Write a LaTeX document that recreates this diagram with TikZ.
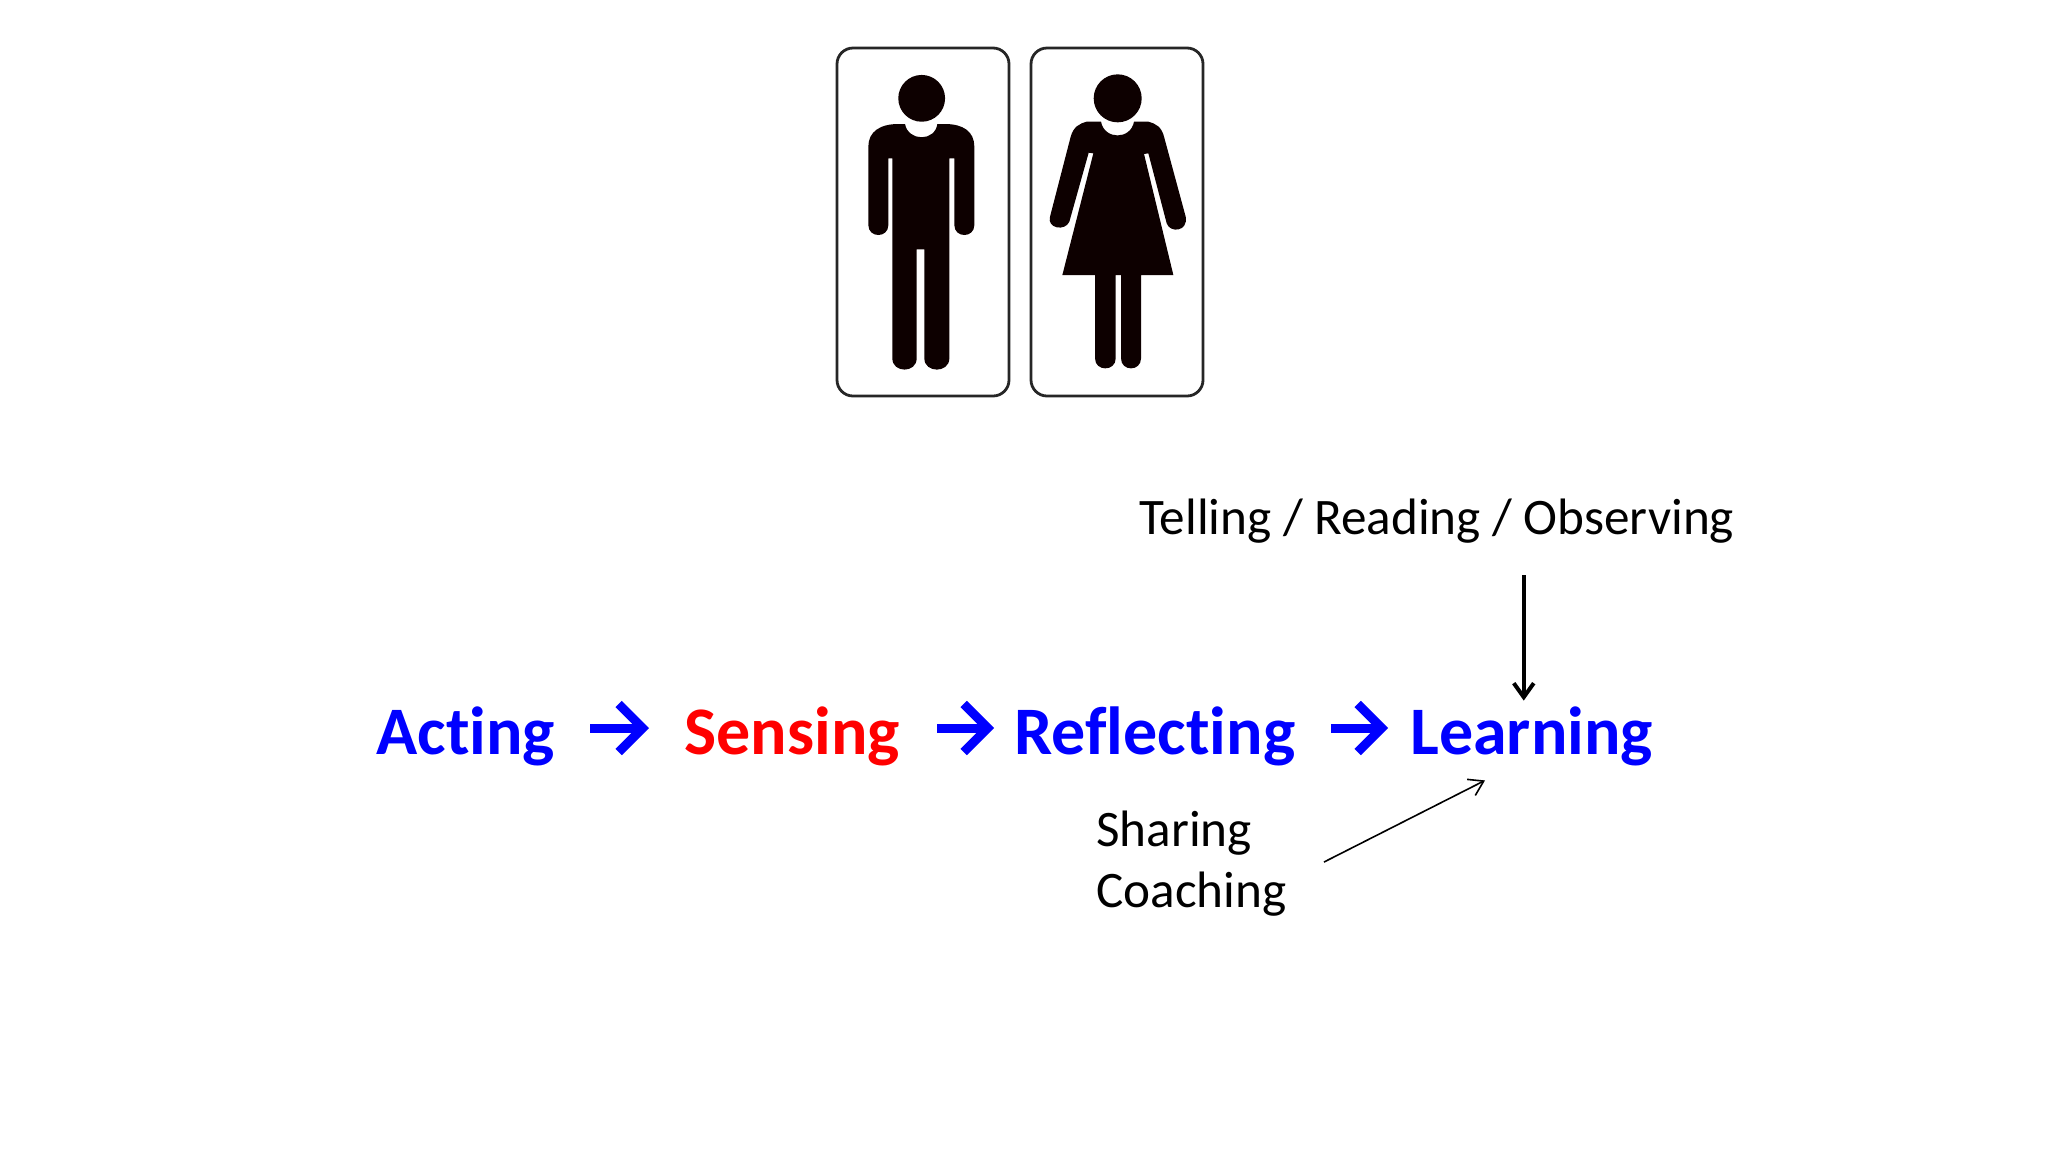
\documentclass[tikz,border=0pt]{standalone}
\usepackage{fontspec}
\setmainfont{Carlito}[Ligatures=NoCommon]
\usetikzlibrary{arrows.meta}
\usetikzlibrary{calc}
\usetikzlibrary{positioning}

\tikzset{
  stagelabel/.style={inner sep=0pt,anchor=base west,text height=32pt,text depth=6pt,font=\bfseries\fontsize{34}{34}\selectfont,text=blue},
  plainlabel/.style={inner sep=0pt,anchor=base west,font=\fontsize{25.6}{26}\selectfont,text=black},
  stagearrow/.style={draw=blue,line width=4.5pt,-{Straight Barb[length=12pt,width=24pt,line width=4.5pt]}},
  signbox/.style={draw=black!85,line width=1.4pt,rounded corners=8pt},
  figurefill/.style={fill=black!95!red,draw=none}
}

\begin{document}
\begin{tikzpicture}[x=0.5pt,y=-0.5pt]
\useasboundingbox (0,0) rectangle (2048,1152);

% signs
\draw[signbox] (837,48) rectangle (1009,396);
\draw[signbox] (1031,48) rectangle (1203,396);

% man and woman, in crop coordinates
\begin{scope}[shift={(820,30)},x=0.16667pt,y=-0.16667pt]
\fill[figurefill] (305,205) circle[radius=11.7pt];
\fill[figurefill] (255,282) .. controls (265,335) and (345,335) .. (352,282) -- (375,282)
  .. controls (430,282) and (463,305) .. (463,350) -- (463,585)
  .. controls (463,625) and (403,625) .. (403,585) -- (403,385) -- (388,385) -- (388,985)
  .. controls (388,1030) and (313,1030) .. (313,985) -- (313,658) -- (290,658) -- (290,985)
  .. controls (290,1030) and (217,1030) .. (217,985) -- (217,385) -- (205,385) -- (205,585)
  .. controls (205,625) and (145,625) .. (145,585) -- (145,350)
  .. controls (145,305) and (180,282) .. (235,282) -- cycle;
\fill[figurefill] (893,205) circle[radius=12pt];
\fill[figurefill] (843,275) .. controls (853,330) and (932,330) .. (942,275) -- (985,275)
  .. controls (1005,280) and (1025,290) .. (1032,320) -- (1097,560)
  .. controls (1105,605) and (1050,610) .. (1040,580) -- (985,370) -- (972,372) -- (1060,735)
  -- (963,735) -- (963,985) .. controls (963,1025) and (903,1025) .. (903,985)
  -- (903,735) -- (887,735) -- (887,985) .. controls (887,1025) and (825,1025) .. (825,985)
  -- (825,735) -- (727,735) -- (820,370) -- (806,368) -- (748,575)
  .. controls (735,605) and (680,595) .. (690,560) -- (752,320)
  .. controls (760,290) and (780,280) .. (800,275) -- cycle;
\end{scope}

% stages
\node[stagelabel] (acting) at (376,754) {Acting};
\node[stagelabel,text=red] (sensing) at (684,754) {Sensing};
\node[stagelabel] (reflecting) at (1014,754) {Reflecting};
\node[stagelabel] (learning) at (1410,754) {Learning};

\draw[stagearrow,shorten <=17.5pt,shorten >=17.5pt] (acting.east) -- (sensing.west);
\draw[stagearrow,shorten <=18.5pt,shorten >=10pt] (sensing.east) -- (reflecting.west);
\draw[stagearrow,shorten <=17.5pt,shorten >=11pt] (reflecting.east) -- (learning.west);

% side labels
\node[plainlabel] (telling) at (1139,534) {Telling / Reading / Observing};
\node[plainlabel] (sharing) at (1096,846) {Sharing};
\node[plainlabel] (coaching) at (1096,907) {Coaching};

\coordinate (tellfoot) at ($(telling.south west)!0.646!(telling.south east)+(0,32)$);
\coordinate (learntop) at (tellfoot |- learning.north);
\draw[line width=2pt,-{Straight Barb[length=7pt,width=10pt]}] (tellfoot) -- ($(learntop)+(0,11)$);
\draw[line width=0.8pt,-{Straight Barb[length=7pt,width=9pt]}] ($(coaching.north east)+(37,-9)$) -- ($(learning.south west)+(75,14)$);
\end{tikzpicture}
\end{document}
